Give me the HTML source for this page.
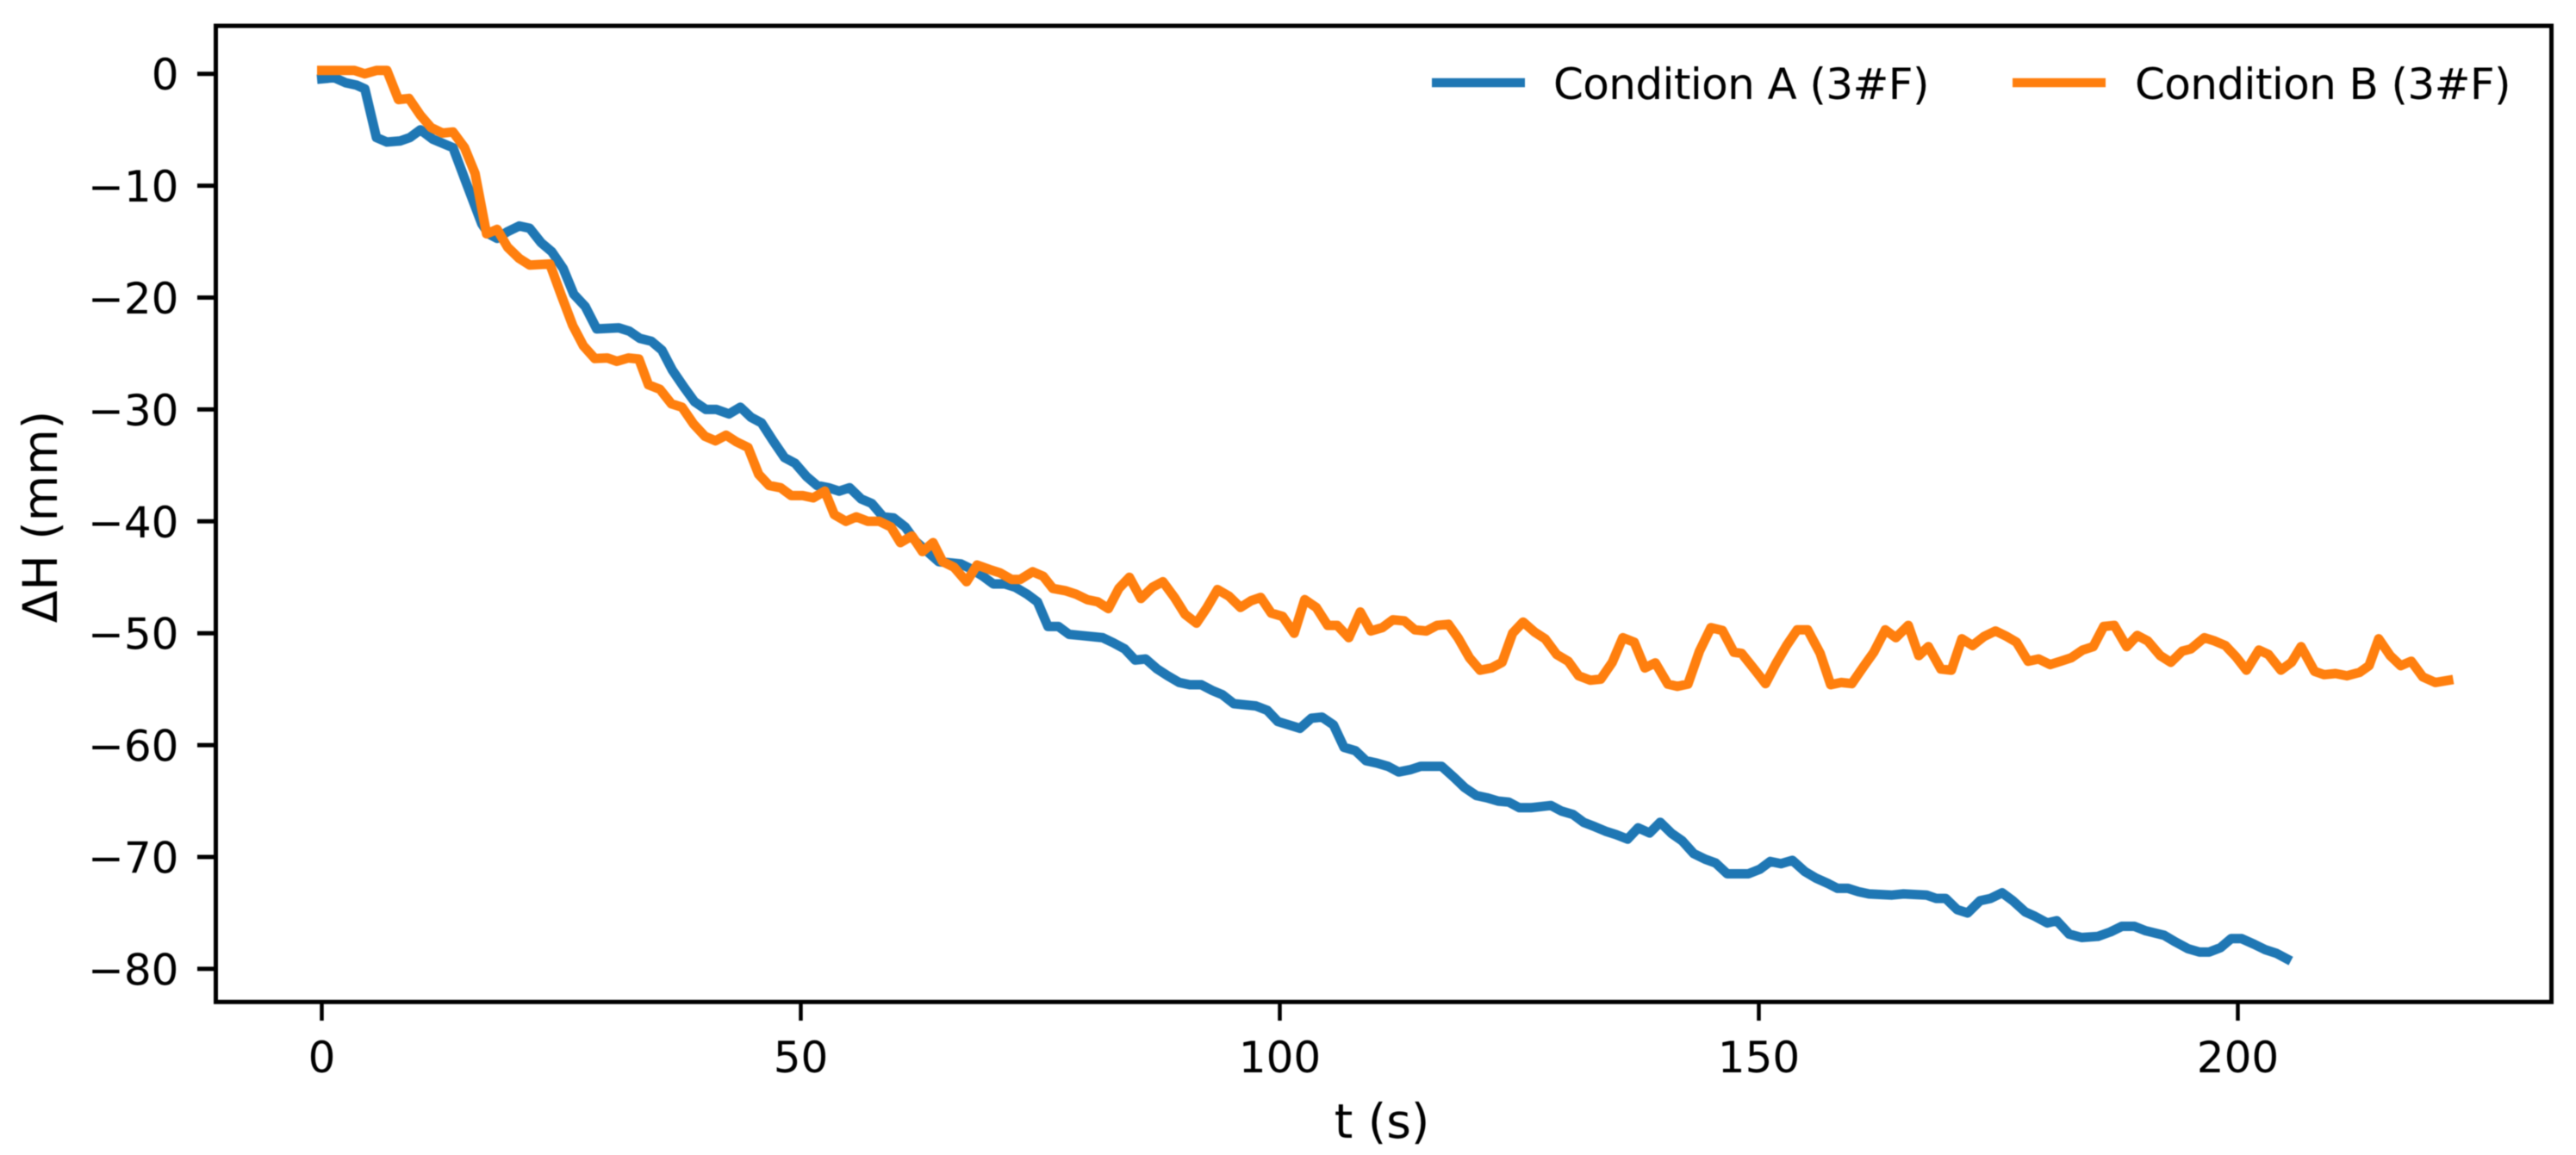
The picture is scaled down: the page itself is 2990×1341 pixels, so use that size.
<!DOCTYPE html>
<html lang="en">
<head>
<meta charset="utf-8">
<title>ΔH over time</title>
<style>
html,body{margin:0;padding:0;background:#fff;width:2990px;height:1341px;overflow:hidden}
svg{display:block;filter:blur(0.6px)}
text{font-family:"DejaVu Sans","Liberation Sans",sans-serif;font-size:50px;fill:#000}
.axis-title{font-size:55px}
.legend-text{letter-spacing:-0.6px}
</style>
</head>
<body>
<svg id="chart" xmlns="http://www.w3.org/2000/svg" width="2990" height="1341" viewBox="0 0 2990 1341">
  <rect x="0" y="0" width="2990" height="1341" fill="#fff"/>
  <g id="ticks"></g>
  <g id="series"></g>
  <rect x="250.5" y="30" width="2711" height="1133.3" fill="none" stroke="#000" stroke-width="5"/>
  <text class="axis-title" x="1604" y="1321" text-anchor="middle">t (s)</text>
  <text class="axis-title" transform="translate(66 600) rotate(-90)" text-anchor="middle">ΔH (mm)</text>
  <g>
    <line x1="1662" y1="96" x2="1770" y2="96" stroke="#1f77b4" stroke-width="10.5"/>
    <text class="legend-text" x="1803" y="115">Condition A (3#F)</text>
    <line x1="2336" y1="96" x2="2444" y2="96" stroke="#ff7f0e" stroke-width="10.5"/>
    <text class="legend-text" x="2478" y="115">Condition B (3#F)</text>
  </g>
</svg>
<script>
const xTickValues = [0, 50, 100, 150, 200];
const yTickValues = [0, -10, -20, -30, -40, -50, -60, -70, -80];

const conditionATimes = [0,1.3,2.5,3.6,4.5,5.7,6.8,8.2,9.2,10.3,11.6,13.7,15.1,16.7,17.4,18.3,19.4,20.6,21.7,22.9,24,25.2,26.3,27.5,28.7,31,32.1,33.2,34.4,35.5,36.6,37.8,38.9,40.1,41.2,42.5,43.7,44.8,45.9,47.1,48.3,49.4,50.6,51.7,52.9,54,55.1,56.3,57.4,58.6,59.7,60.9,62,63.2,64.4,66.7,67.9,69,70.1,71.3,72.4,73.6,74.7,75.8,76.9,78,79.2,81.5,82.6,83.8,84.9,86,87.2,88.3,89.5,90.6,91.8,92.9,94,95.2,97.5,98.7,99.8,102.1,103.3,104.4,105.6,106.7,107.9,109,110.1,111.3,112.4,113.6,114.7,115.9,116.9,118.2,119.3,120.5,121.6,122.8,123.9,125,126.2,128.3,129.4,130.6,131.7,132.9,134,135.1,136.3,137.4,138.6,139.7,140.9,142,143.2,144.4,145.5,146.7,148.9,150.1,151.2,152.3,153.5,154.8,156,157.3,158.2,159.3,160.4,161.5,163.9,165.1,167.5,168.5,169.5,170.7,171.8,173.1,174.2,175.4,176.5,177.8,178.8,180.1,181.1,182.4,183.7,185.4,186.7,187.9,189.2,190.4,192.3,193.5,194.8,196,197,198.2,199.3,200.4,201.7,202.9,204,205.1];
const conditionAValues = [-0.45,-0.35,-0.8,-1,-1.35,-5.7,-6.1,-6,-5.7,-5,-5.85,-6.6,-9.8,-13.4,-14.3,-14.7,-14.1,-13.6,-13.8,-15.1,-15.9,-17.4,-19.7,-20.8,-22.8,-22.7,-23,-23.65,-23.9,-24.7,-26.5,-28,-29.3,-30,-30,-30.4,-29.8,-30.7,-31.2,-32.8,-34.3,-34.8,-36,-36.8,-37,-37.3,-37,-38,-38.4,-39.6,-39.7,-40.5,-41.8,-42.7,-43.6,-43.8,-44.3,-44.9,-45.6,-45.6,-45.9,-46.5,-47.2,-49.4,-49.4,-50.1,-50.2,-50.4,-50.85,-51.4,-52.4,-52.3,-53.2,-53.8,-54.4,-54.6,-54.6,-55.1,-55.5,-56.3,-56.5,-56.9,-57.9,-58.5,-57.6,-57.5,-58.2,-60.2,-60.5,-61.4,-61.6,-61.9,-62.4,-62.2,-61.9,-61.9,-61.9,-62.9,-63.8,-64.5,-64.7,-65,-65.1,-65.6,-65.6,-65.4,-65.9,-66.2,-66.9,-67.3,-67.7,-68,-68.4,-67.4,-67.85,-66.9,-67.9,-68.55,-69.7,-70.2,-70.55,-71.5,-71.5,-71.1,-70.4,-70.6,-70.3,-71.3,-71.9,-72.4,-72.8,-72.8,-73.1,-73.3,-73.4,-73.3,-73.4,-73.7,-73.7,-74.7,-75,-73.9,-73.7,-73.2,-73.9,-74.9,-75.3,-75.9,-75.7,-76.9,-77.2,-77.1,-76.7,-76.2,-76.2,-76.6,-77,-77.6,-78.2,-78.5,-78.5,-78.1,-77.3,-77.3,-77.8,-78.3,-78.6,-79.1];

const conditionBTimes = [0,3.4,4.5,5.7,6.8,8,9.1,10.3,11.4,12.6,13.7,14.9,16,17.2,18.3,19.4,20.6,21.7,23.8,25,26.2,27.3,28.5,29.8,30.8,32,33.1,34.1,35.3,36.5,37.6,38.8,40,41.1,42.2,43.3,44.5,45.6,46.7,47.9,49,50.2,51.3,52.5,53.5,54.7,55.8,57,58.2,59.4,60.4,61.6,62.7,63.8,64.8,66,67.3,68.4,69.7,70.8,72,72.9,74.2,75.3,76.3,77.6,78.7,79.9,81,82.1,83.2,84.3,85.5,86.7,87.8,89,90.1,91.3,92.4,93.5,94.7,95.9,97,98,99.1,100.3,101.5,102.6,103.8,105,106,107.2,108.4,109.5,110.7,111.8,113,114.1,115.3,116.4,117.6,118.6,119.8,120.9,122.1,123.2,124.3,125.4,126.6,127.7,128.9,130.1,131.2,132.4,133.5,134.7,135.8,137,138.1,139.2,140.5,141.5,142.6,143.8,145,146.2,147.4,148.2,149.6,150.7,151.8,152.9,154,155.1,156.4,157.5,158.6,159.7,161,162,163.2,164.3,165.6,166.7,167.7,169,170.1,171.2,172.3,173.5,174.7,175.9,176.9,178.1,179.2,180.4,181.5,182.6,183.8,184.9,186,187.1,188.4,189.5,190.6,191.9,193,194.2,195.1,196.5,197.6,198.7,199.8,200.9,202.2,203.2,204.5,205.6,206.6,208,209,210.2,211.4,212.7,213.7,214.7,215.9,217,218.1,219.3,220.6,222];
const conditionBValues = [0.3,0.3,0,0.3,0.3,-2.3,-2.2,-3.7,-4.8,-5.3,-5.2,-6.6,-8.9,-14.3,-13.9,-15.5,-16.5,-17.1,-17,-19.8,-22.5,-24.3,-25.45,-25.4,-25.7,-25.4,-25.5,-27.8,-28.2,-29.5,-29.8,-31.3,-32.4,-32.8,-32.3,-32.9,-33.4,-35.8,-36.8,-37,-37.7,-37.7,-37.9,-37.3,-39.4,-40,-39.6,-40,-40,-40.5,-41.9,-41.3,-42.7,-41.9,-43.6,-44.1,-45.4,-43.9,-44.3,-44.6,-45.2,-45.2,-44.5,-44.9,-46,-46.2,-46.5,-47,-47.2,-47.8,-46,-45,-46.9,-45.9,-45.4,-46.8,-48.3,-49.1,-47.7,-46.1,-46.7,-47.7,-47.1,-46.8,-48.2,-48.5,-50,-47,-47.7,-49.3,-49.3,-50.4,-48.1,-49.8,-49.5,-48.8,-48.9,-49.7,-49.8,-49.3,-49.2,-50.4,-52.2,-53.3,-53.1,-52.6,-50,-49,-49.9,-50.5,-51.9,-52.5,-53.8,-54.2,-54.1,-52.6,-50.4,-50.8,-53.1,-52.65,-54.55,-54.75,-54.55,-51.6,-49.5,-49.75,-51.7,-51.8,-53.3,-54.5,-52.7,-51.1,-49.7,-49.7,-51.8,-54.6,-54.4,-54.5,-52.9,-51.7,-49.7,-50.4,-49.3,-52,-51.2,-53.2,-53.3,-50.5,-51.1,-50.3,-49.8,-50.3,-50.8,-52.5,-52.3,-52.8,-52.5,-52.2,-51.5,-51.2,-49.4,-49.3,-51.2,-50.2,-50.7,-52,-52.6,-51.6,-51.4,-50.4,-50.7,-51.1,-52.1,-53.3,-51.5,-51.9,-53.3,-52.6,-51.2,-53.4,-53.7,-53.6,-53.8,-53.5,-52.9,-50.5,-52,-52.9,-52.5,-53.9,-54.4,-54.2];

const SVG_NS = 'http://www.w3.org/2000/svg';
const xAt = function (t) { return 373.5 + t * 11.12; };
const yAt = function (v) { return 85.7 - v * 12.99; };

const ticksGroup = document.getElementById('ticks');
const seriesGroup = document.getElementById('series');

xTickValues.forEach(function (value) {
  const mark = document.createElementNS(SVG_NS, 'line');
  
  
  mark.setAttribute('x1', xAt(value));
  mark.setAttribute('x2', xAt(value));
  mark.setAttribute('y1', 1163);
  mark.setAttribute('y2', 1185);
  mark.setAttribute('stroke', '#000');
  mark.setAttribute('stroke-width', 4.5);
  ticksGroup.appendChild(mark);

  const label = document.createElementNS(SVG_NS, 'text');
  
  
  label.setAttribute('x', xAt(value));
  label.setAttribute('y', 1245);
  label.setAttribute('text-anchor', 'middle');
  label.textContent = String(value);
  ticksGroup.appendChild(label);
});

yTickValues.forEach(function (value) {
  const mark = document.createElementNS(SVG_NS, 'line');
  
  
  mark.setAttribute('x1', 229);
  mark.setAttribute('x2', 250);
  mark.setAttribute('y1', yAt(value));
  mark.setAttribute('y2', yAt(value));
  mark.setAttribute('stroke', '#000');
  mark.setAttribute('stroke-width', 5);
  ticksGroup.appendChild(mark);

  const label = document.createElementNS(SVG_NS, 'text');
  
  
  label.setAttribute('x', 207.5);
  label.setAttribute('y', yAt(value) + 18.5);
  label.setAttribute('text-anchor', 'end');
  label.textContent = value < 0 ? '\u2212' + Math.abs(value) : String(value);
  ticksGroup.appendChild(label);
});

function buildPoints(times, values) {
  return times.map(function (t, i) {
    return xAt(t).toFixed(1) + ',' + yAt(values[i]).toFixed(1);
  }).join(' ');
}

const lineA = document.createElementNS(SVG_NS, 'polyline');


lineA.setAttribute('points', buildPoints(conditionATimes, conditionAValues));
lineA.setAttribute('fill', 'none');
lineA.setAttribute('stroke', '#1f77b4');
lineA.setAttribute('stroke-width', 11);
lineA.setAttribute('stroke-linejoin', 'round');
lineA.setAttribute('stroke-linecap', 'square');
seriesGroup.appendChild(lineA);

const lineB = document.createElementNS(SVG_NS, 'polyline');


lineB.setAttribute('points', buildPoints(conditionBTimes, conditionBValues));
lineB.setAttribute('fill', 'none');
lineB.setAttribute('stroke', '#ff7f0e');
lineB.setAttribute('stroke-width', 11);
lineB.setAttribute('stroke-linejoin', 'round');
lineB.setAttribute('stroke-linecap', 'square');
seriesGroup.appendChild(lineB);
</script>
</body>
</html>
